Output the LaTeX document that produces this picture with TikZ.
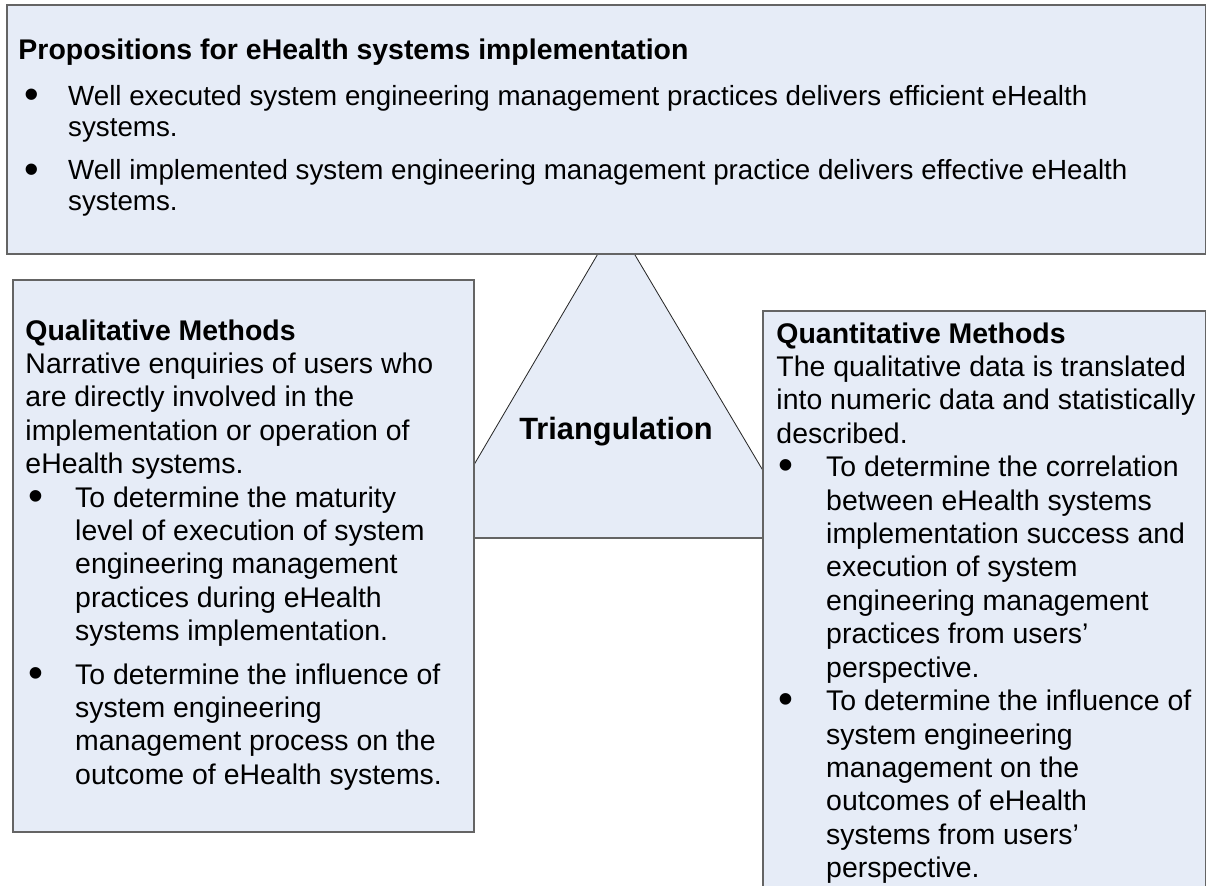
\documentclass[tikz,border=0pt]{standalone}
\usepackage{fontspec}
\setmainfont{Liberation Sans}
\definecolor{boxblue}{RGB}{230,236,247}
\definecolor{boxedge}{RGB}{100,100,100}
\definecolor{triedge}{RGB}{40,40,40}
% bullet and hanging indent for the item lines
\newcommand{\bul}[1]{\hspace*{#1}\makebox[\dimexpr21pt-#1\relax][l]{\raisebox{-1.3pt}{\scalebox{1.5}{\textbullet}}}}
\newcommand{\ind}{\hspace*{21pt}}

\begin{document}
\begin{tikzpicture}[x=0.422pt,y=-0.422pt,
    panel/.style={fill=boxblue,draw=boxedge,line width=0.6pt},
    body/.style={anchor=north west,inner sep=0pt,align=left,
      font=\fontsize{12}{14.1}\selectfont}]
  \useasboundingbox (0,0) rectangle (1207,886);
  \clip (0,0) rectangle (1207,886);

  % points of the triangle behind the boxes
  \coordinate (T) at (616,223);
  \coordinate (L) at (431,538);
  \coordinate (R) at (803,538);
  \fill[boxblue] (T) -- (L) -- (R) -- cycle;
  \draw[triedge,line width=0.35pt] (L) -- (T) -- (R);
  \draw[boxedge,line width=0.6pt] (L) -- (R);
  \node[anchor=base,inner sep=0pt,font=\fontsize{13}{15}\selectfont\bfseries]
    (tri) at (616,440) {Triangulation};

  % the three boxes
  \draw[panel] (7,5) rectangle (1205.5,254);
  \draw[panel] (13,280) rectangle (474,832);
  \draw[panel] (763,311) rectangle (1205.5,900);

  \node[body,font=\fontsize{11.7}{13.1}\selectfont] (props) at (18,38)
    {{\fontsize{12}{13.1}\selectfont\bfseries Propositions for eHealth systems implementation}\\[6.3pt]
     \bul{2.5pt}Well executed system engineering management practices delivers efficient eHealth\\
     \ind systems.\\[5.4pt]
     \bul{2.5pt}Well implemented system engineering management practice delivers effective eHealth\\
     \ind systems.};

  \node[body] (qual) at (25,319)
    {\textbf{Qualitative Methods}\\
     Narrative enquiries of users who\\
     are directly involved in the\\
     implementation or operation of\\
     eHealth systems.\\
     \bul{1.2pt}To determine the maturity\\
     \ind level of execution of system\\
     \ind engineering management\\
     \ind practices during eHealth\\
     \ind systems implementation.\\[4.2pt]
     \bul{1.2pt}To determine the influence of\\
     \ind system engineering\\
     \ind management process on the\\
     \ind outcome of eHealth systems.};

  \node[body] (quant) at (776,322)
    {\textbf{Quantitative Methods}\\
     The qualitative data is translated\\
     into numeric data and statistically\\
     described.\\
     \bul{1pt}To determine the correlation\\
     \ind between eHealth systems\\
     \ind implementation success and\\
     \ind execution of system\\
     \ind engineering management\\
     \ind practices from users’\\
     \ind perspective.\\
     \bul{1pt}To determine the influence of\\
     \ind system engineering\\
     \ind management on the\\
     \ind outcomes of eHealth\\
     \ind systems from users’\\
     \ind perspective.};
\end{tikzpicture}
\end{document}
